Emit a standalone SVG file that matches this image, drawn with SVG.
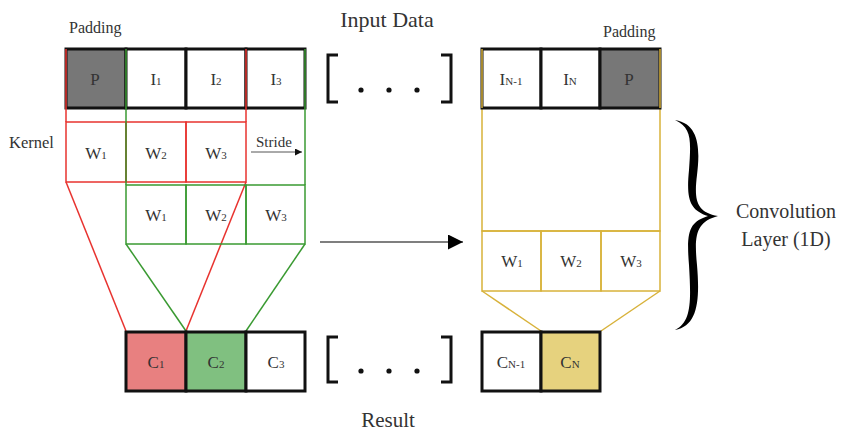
<svg xmlns="http://www.w3.org/2000/svg" width="852" height="434" viewBox="0 0 852 434">
<defs>
<style>
.t{font-family:"Liberation Serif","Times New Roman",serif;fill:#333;}
.c{font-size:17px;text-anchor:middle;}
.s{font-size:11px;}
.cell{stroke:#111;stroke-width:3;}
.red{stroke:#e8332f;stroke-width:1.5;fill:none;}
.grn{stroke:#3a9a32;stroke-width:1.5;fill:none;}
.yel{stroke:#d8b23a;stroke-width:1.5;fill:none;}
.br{stroke:#111;stroke-width:3;fill:none;}
</style>
<marker id="ah" viewBox="0 0 10 10" refX="10" refY="5" markerWidth="8" markerHeight="7" markerUnits="userSpaceOnUse" orient="auto"><path d="M0,0L10,5L0,10z" fill="#111"/></marker>
<marker id="ah2" viewBox="0 0 10 10" refX="10" refY="5" markerWidth="16" markerHeight="15" markerUnits="userSpaceOnUse" orient="auto"><path d="M0,0L10,5L0,10z" fill="#000"/></marker>
</defs>
<rect width="852" height="434" fill="#fff"/>

<g id="connectors">
<line class="red" x1="66" y1="182" x2="126" y2="331"/>
<line class="red" x1="246" y1="182" x2="186" y2="331"/>
<line class="grn" x1="126" y1="244" x2="186" y2="331"/>
<line class="grn" x1="305" y1="244" x2="246" y2="331"/>
<line class="yel" x1="482" y1="291" x2="541" y2="331"/>
<line class="yel" x1="660" y1="291" x2="601" y2="331"/>
<line x1="320" y1="242" x2="463" y2="242" stroke="#555" stroke-width="1.5" marker-end="url(#ah2)"/>
</g>

<g id="green-kernel">
<rect x="126" y="185" width="60" height="59" fill="#fff" fill-opacity="0.75" class="grn"/>
<rect x="186" y="185" width="60" height="59" fill="#fff" fill-opacity="0.75" class="grn"/>
<rect x="246" y="185" width="59" height="59" fill="#fff" fill-opacity="0.75" class="grn"/>
<text class="t c" x="156" y="221">W<tspan class="s">1</tspan></text>
<text class="t c" x="216" y="221">W<tspan class="s">2</tspan></text>
<text class="t c" x="276" y="221">W<tspan class="s">3</tspan></text>
</g>

<g id="red-kernel">
<rect x="66" y="122" width="60" height="60" fill="#fff" class="red"/>
<rect x="126" y="122" width="60" height="60" fill="#fff" class="red"/>
<rect x="186" y="122" width="60" height="60" fill="#fff" class="red"/>
<text class="t c" x="96" y="159">W<tspan class="s">1</tspan></text>
<text class="t c" x="156" y="159">W<tspan class="s">2</tspan></text>
<text class="t c" x="216" y="159">W<tspan class="s">3</tspan></text>
</g>

<g id="input-left">
<rect class="cell" x="66" y="49" width="60" height="59" fill="#777"/>
<rect class="cell" x="126" y="49" width="60" height="59" fill="#fff"/>
<rect class="cell" x="186" y="49" width="60" height="59" fill="#fff"/>
<rect class="cell" x="246" y="49" width="59" height="59" fill="#fff"/>
<text class="t c" x="95" y="85">P</text>
<text class="t c" x="156" y="85">I<tspan class="s">1</tspan></text>
<text class="t c" x="216" y="85">I<tspan class="s">2</tspan></text>
<text class="t c" x="276" y="85">I<tspan class="s">3</tspan></text>
</g>

<g id="kernel-guides">
<line class="red" x1="66" y1="49" x2="66" y2="122"/>
<line class="red" x1="246" y1="49" x2="246" y2="122"/>
<line class="grn" x1="126" y1="49" x2="126" y2="185"/>
<line class="grn" x1="305" y1="49" x2="305" y2="185"/>
</g>

<g id="stride">
<text class="t" x="256" y="147" font-size="15">Stride</text>
<line x1="251" y1="152" x2="302" y2="152" stroke="#555" stroke-width="1" marker-end="url(#ah)"/>
</g>

<g id="yellow-kernel">
<rect class="yel" x="482" y="108" width="178" height="123" fill="#fff"/>
<rect class="yel" x="482" y="231" width="59" height="60" fill="#fff"/>
<rect class="yel" x="541" y="231" width="60" height="60" fill="#fff"/>
<rect class="yel" x="601" y="231" width="59" height="60" fill="#fff"/>
<text class="t c" x="512" y="267">W<tspan class="s">1</tspan></text>
<text class="t c" x="571" y="267">W<tspan class="s">2</tspan></text>
<text class="t c" x="631" y="267">W<tspan class="s">3</tspan></text>
</g>

<g id="input-right">
<rect class="cell" x="482" y="49" width="59" height="59" fill="#fff"/>
<rect class="cell" x="541" y="49" width="59" height="59" fill="#fff"/>
<rect class="cell" x="600" y="49" width="60" height="59" fill="#777"/>
<text class="t c" x="511" y="85">I<tspan class="s">N-1</tspan></text>
<text class="t c" x="570" y="85">I<tspan class="s">N</tspan></text>
<text class="t c" x="629" y="85">P</text>
<line class="yel" x1="482" y1="49" x2="482" y2="108"/>
<line class="yel" x1="660" y1="49" x2="660" y2="108"/>
</g>

<g id="result-left">
<rect class="cell" x="126" y="332" width="60" height="59" fill="#e88080"/>
<rect class="cell" x="186" y="332" width="60" height="59" fill="#80c080"/>
<rect class="cell" x="246" y="332" width="59" height="59" fill="#fff"/>
<text class="t c" x="156" y="368">C<tspan class="s">1</tspan></text>
<text class="t c" x="216" y="368">C<tspan class="s">2</tspan></text>
<text class="t c" x="276" y="368">C<tspan class="s">3</tspan></text>
</g>

<g id="result-right">
<rect class="cell" x="482" y="332" width="59" height="59" fill="#fff"/>
<rect class="cell" x="541" y="332" width="59" height="59" fill="#e6d27e"/>
<text class="t c" x="511" y="368">C<tspan class="s">N-1</tspan></text>
<text class="t c" x="570" y="368">C<tspan class="s">N</tspan></text>
</g>

<g id="ellipsis-top">
<path class="br" d="M338,55H328V102H338"/>
<path class="br" d="M441,55H451V102H441"/>
<circle cx="361" cy="90" r="2.6" fill="#111"/>
<circle cx="389" cy="90" r="2.6" fill="#111"/>
<circle cx="417" cy="90" r="2.6" fill="#111"/>
</g>

<g id="ellipsis-bottom">
<path class="br" d="M338,337H328V382H338"/>
<path class="br" d="M441,337H451V382H441"/>
<circle cx="361" cy="371" r="2.6" fill="#111"/>
<circle cx="389" cy="371" r="2.6" fill="#111"/>
<circle cx="417" cy="371" r="2.6" fill="#111"/>
</g>

<g id="brace">
<path d="M675,120 C700,124 700,150 697,175 C694,200 696,212 718,216 C696,222 694,235 697,265 C700,300 698,326 675,330 C692,322 691,300 689,265 C686,230 690,222 708,216 C690,210 686,200 689,170 C691,140 692,128 675,120 Z" fill="#000"/>
</g>

<g id="labels">
<text class="t" x="69" y="33" font-size="16">Padding</text>
<text class="t" x="603" y="37" font-size="16">Padding</text>
<text class="t" x="387" y="27" font-size="22" text-anchor="middle">Input Data</text>
<text class="t" x="9" y="148" font-size="16.5">Kernel</text>
<text class="t" x="786" y="218" font-size="20" text-anchor="middle">Convolution</text>
<text class="t" x="786" y="246" font-size="20" text-anchor="middle">Layer (1D)</text>
<text class="t" x="388" y="427" font-size="21" text-anchor="middle">Result</text>
</g>
</svg>
